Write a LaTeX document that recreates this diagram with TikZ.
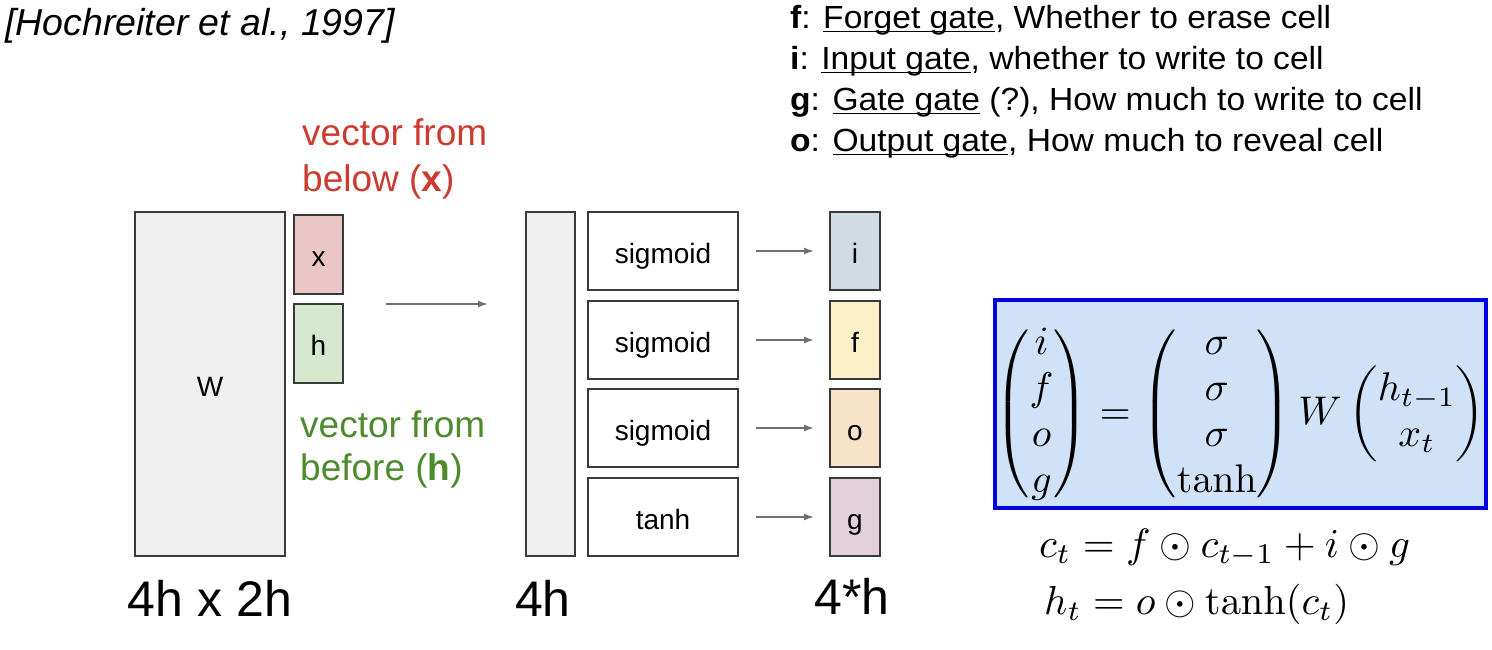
\documentclass[tikz,border=0pt]{standalone}
\usepackage{amsmath}
\usepackage[no-math]{fontspec}
\newfontfamily\arial{Liberation Sans}
\newfontfamily\arialw[FakeStretch=1.05]{Liberation Sans}
\newcommand\ulx[1]{\setbox0\hbox{#1}\rlap{\rule[-3.5pt]{\wd0}{1.6pt}}\box0\relax}
\usetikzlibrary{arrows.meta}
\definecolor{wfill}{HTML}{F0F0F0}
\definecolor{bord}{HTML}{3A3A3A}
\definecolor{xfill}{HTML}{EAC6C6}
\definecolor{hfill}{HTML}{D7E8D1}
\definecolor{ifill}{HTML}{D0DCE2}
\definecolor{ffill}{HTML}{FBF0C8}
\definecolor{ofill}{HTML}{F8E2C8}
\definecolor{gfill}{HTML}{E2D0DB}
\definecolor{redt}{HTML}{CC3B30}
\definecolor{greent}{HTML}{4E8A2E}
\definecolor{eqfill}{HTML}{CFE2F8}
\definecolor{eqbord}{HTML}{0000E0}
\definecolor{arrc}{HTML}{707070}
\begin{document}
\begin{tikzpicture}[x=1pt,y=-1pt,
  box/.style={draw=bord, line width=2pt, inner sep=0pt, text height=24pt, text depth=0pt, font=\arial\fontsize{28}{32}\selectfont},
  arr/.style={draw=arrc, line width=1.5pt, -{Latex[length=10pt,width=7pt]}},
  lbl/.style={anchor=base, inner sep=0pt, font=\arial\fontsize{50}{60}\selectfont},
  vtext/.style={anchor=base west, inner sep=0pt, font=\arial\fontsize{37}{44}\selectfont},
  gtext/.style={anchor=base west, inner sep=0pt, font=\arialw\fontsize{32}{38}\selectfont},
  mtext/.style={anchor=base west, inner sep=0pt}]
\useasboundingbox (0,0) rectangle (1492,650);
% citation
\node[anchor=base west, inner sep=0pt, font=\arial\itshape\fontsize{37.5}{44}\selectfont] (cite) at (5,36) {[Hochreiter et al., 1997]};
% gate descriptions
\node[gtext] (tf) at (790,29) {\textbf{f}: \ulx{Forget gate}, Whether to erase cell};
\node[gtext] (ti) at (790,70) {\textbf{i}: \ulx{Input gate}, whether to write to cell};
\node[gtext] (tg) at (790,111) {\textbf{g}: \ulx{Gate gate} (?), How much to write to cell};
\node[gtext] (to) at (790,152) {\textbf{o}: \ulx{Output gate}, How much to reveal cell};
% vector labels
\node[vtext, text=redt] (vx1) at (302,146) {vector from};
\node[vtext, text=redt] (vx2) at (302,192) {below (\textbf{x})};
\node[vtext, text=greent] (vh1) at (300,437) {vector from};
\node[vtext, text=greent] (vh2) at (300,480) {before (\textbf{h})};
% left matrices
\node[box, fill=wfill, minimum width=150pt, minimum height=344pt] (W) at (210,384) {W};
\node[box, fill=xfill, minimum width=49pt, minimum height=79pt] (x) at (318.5,254.5) {x};
\node[box, fill=hfill, minimum width=49pt, minimum height=79pt] (h) at (318.5,343.5) {h};
\coordinate (a1) at (386,304);
\coordinate (a2) at (488,304);
\draw[arr] (a1) -- (a2);
% middle
\node[box, fill=wfill, minimum width=49pt, minimum height=344pt] (bar) at (550.5,384) {};
\node[box, fill=white, minimum width=150pt, minimum height=78pt] (s1) at (663,251) {sigmoid};
\node[box, fill=white, minimum width=150pt, minimum height=78pt] (s2) at (663,340) {sigmoid};
\node[box, fill=white, minimum width=150pt, minimum height=78pt] (s3) at (663,428) {sigmoid};
\node[box, fill=white, minimum width=150pt, minimum height=78pt] (s4) at (663,517) {tanh};
\node[box, fill=ifill, minimum width=50pt, minimum height=78pt] (gi) at (855,251) {i};
\node[box, fill=ffill, minimum width=50pt, minimum height=78pt] (gf) at (855,340) {f};
\node[box, fill=ofill, minimum width=50pt, minimum height=78pt] (go) at (855,428) {o};
\node[box, fill=gfill, minimum width=50pt, minimum height=78pt] (gg) at (855,517) {g};
\foreach \a/\b in {s1/gi,s2/gf,s3/go,s4/gg}
  \draw[arr, shorten <=17pt, shorten >=15pt] (\a) -- (\b);
% size labels
\node[lbl] (l1) at (210,616) {4h x 2h};
\node[lbl] (l2) at (543,616) {4h};
\node[lbl] (l3) at (852,614) {4*h};
% equation box
\node[draw=eqbord, line width=4pt, fill=eqfill, minimum width=491pt, minimum height=208pt, inner sep=0pt] (eqbox) at (1240.5,404) {};
\node[inner sep=0pt] (eq) at (1240,414)
 {\scalebox{4}{\fontsize{10}{11.5}\selectfont$\begin{pmatrix} i\\ f\\ o\\ g\end{pmatrix} = \begin{pmatrix}\sigma\\ \sigma\\ \sigma\\ \tanh\end{pmatrix} W \begin{pmatrix} h_{t-1}\\ x_t\end{pmatrix}$}};
\node[mtext] (e1) at (1039,557) {\scalebox{4.1}{$c_t = f\odot c_{t-1} + i\odot g$}};
\node[mtext] (e2) at (1044,614) {\scalebox{4.05}{$h_t = o\odot \tanh(c_t)$}};
\end{tikzpicture}
\end{document}
